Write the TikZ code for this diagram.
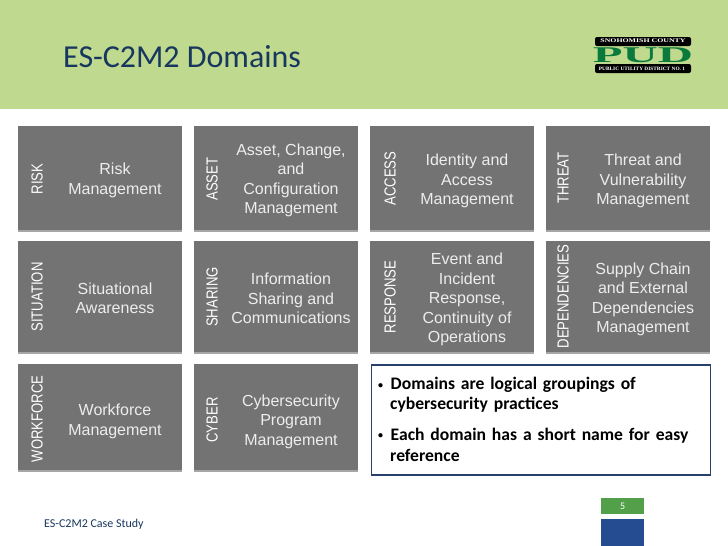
\documentclass[tikz,border=0pt]{standalone}
\usepackage{fontspec}
\setmainfont{Liberation Sans}
\newfontfamily\calibrifont{Carlito}
\newfontfamily\logofont{Liberation Serif}
\usetikzlibrary{shadows}
\usepackage{xcolor}
\definecolor{headergreen}{RGB}{191,217,142}
\definecolor{titleblue}{RGB}{23,55,94}
\definecolor{boxgray}{RGB}{115,115,115}
\definecolor{noteblue}{RGB}{36,64,107}
\definecolor{pagegreen}{RGB}{82,160,74}
\definecolor{pageblue}{RGB}{37,76,145}
\definecolor{logogreen}{RGB}{10,122,60}
\newcommand{\notebullet}{\makebox[12.5pt][l]{\raisebox{1.5pt}{\normalsize\textbullet}}}
\tikzset{
  domainbox/.style={fill=boxgray,anchor=north west,minimum width=164pt,inner sep=0pt,
    drop shadow={shadow xshift=0pt,shadow yshift=-1.6pt,fill=black,opacity=.35}},
  shortname/.style={text=white,font=\fontsize{16}{16}\selectfont,rotate=90,xscale=.82,inner sep=0pt},
  fullname/.style={text=white!93!black,font=\fontsize{16}{19.4}\selectfont,align=center,inner sep=0pt},
}
\begin{document}
\begin{tikzpicture}[x=1pt,y=-1pt]
        \useasboundingbox (0,0) rectangle (728,546);
        \fill[white] (0,0) rectangle (728,546);
        \fill[headergreen] (0,0) rectangle (728,109);
        \node[text=titleblue,font=\calibrifont\fontsize{32}{32}\selectfont,anchor=base west,inner sep=0pt]
          (title) at (63,67) {ES-C2M2 Domains};

        % logo
        \fill[black,rounded corners=2pt] (595,37) rectangle (691,46);
        \fill[black,rounded corners=2pt] (595,64) rectangle (691,73);
        \node[text=white,font=\logofont\bfseries\fontsize{5.6}{5.6}\selectfont,inner sep=0pt,xscale=1.4]
          (logotop) at (643,41) {SNOHOMISH COUNTY};
        \node[text=logogreen,font=\logofont\bfseries\fontsize{25}{25}\selectfont,inner sep=0pt,xscale=1.95,yscale=.9]
          (logopud) at (643,55) {PUD};
        \node[text=white,font=\logofont\bfseries\fontsize{5}{5}\selectfont,inner sep=0pt,xscale=1.07]
          (logobottom) at (642,68.5) {PUBLIC UTILITY DISTRICT NO. 1};

        % first row
        \node[domainbox,minimum height=104pt] (riskbox) at (18,126) {};
        \node[domainbox,minimum height=104pt] (assetbox) at (194,126) {};
        \node[domainbox,minimum height=104pt] (accessbox) at (370,126) {};
        \node[domainbox,minimum height=104pt] (threatbox) at (546,126) {};
        \node[shortname] (risklabel) at (37,179) {RISK};
        \node[shortname] (assetlabel) at (212,179) {ASSET};
        \node[shortname] (accesslabel) at (390,178.5) {ACCESS};
        \node[shortname] (threatlabel) at (563,178) {THREAT};
        \node[fullname] (risktext) at (115,180.5) {Risk\\Management};
        \node[fullname] (assettext) at (291,180.5) {Asset, Change,\\and\\Configuration\\Management};
        \node[fullname] (accesstext) at (467,181) {Identity and\\Access\\Management};
        \node[fullname] (threattext) at (643,181) {Threat and\\Vulnerability\\Management};

        % second row
        \node[domainbox,minimum height=111pt] (situationbox) at (18,241) {};
        \node[domainbox,minimum height=111pt] (sharingbox) at (194,241) {};
        \node[domainbox,minimum height=111pt] (responsebox) at (370,241) {};
        \node[domainbox,minimum height=111pt] (dependenciesbox) at (546,241) {};
        \node[shortname] (situationlabel) at (37,297) {SITUATION};
        \node[shortname] (sharinglabel) at (212,297) {SHARING};
        \node[shortname] (responselabel) at (390,297) {RESPONSE};
        \node[shortname] (dependencieslabel) at (563,296.5) {DEPENDENCIES};
        \node[fullname] (situationtext) at (115,298.5) {Situational\\Awareness};
        \node[fullname] (sharingtext) at (291,298.5) {Information\\Sharing and\\Communications};
        \node[fullname] (responsetext) at (467,299.5) {Event and\\Incident\\Response,\\Continuity of\\Operations};
        \node[fullname] (dependenciestext) at (643,299.5) {Supply Chain\\and External\\Dependencies\\Management};

        % third row
        \node[domainbox,minimum height=106pt] (workforcebox) at (18,364) {};
        \node[domainbox,minimum height=106pt] (cyberbox) at (194,364) {};
        \node[shortname] (workforcelabel) at (37,419) {WORKFORCE};
        \node[shortname] (cyberlabel) at (212,420) {CYBER};
        \node[fullname] (workforcetext) at (115,421.5) {Workforce\\Management};
        \node[fullname] (cybertext) at (291,421.5) {Cybersecurity\\Program\\Management};

        % note
        \node[draw=noteblue,line width=1.8pt,fill=white,anchor=north west,minimum width=339pt,minimum height=110pt,inner sep=0pt]
          (notebox) at (370.5,364) {};
        \node[font=\calibrifont\bfseries\fontsize{17.6}{20}\selectfont,anchor=north west,text width=325pt,align=left,inner sep=0pt]
          (noteone) at (378,377) {\notebullet Domains are logical groupings of\\
            \hspace*{12pt}cybersecurity practices};
        \node[font=\calibrifont\bfseries\fontsize{17.6}{21}\selectfont,anchor=north west,text width=325pt,align=left,inner sep=0pt]
          (notetwo) at (378,427.5) {\notebullet Each domain has a short name for easy\\
            \hspace*{12pt}reference};

        % footer
        \node[fill=pagegreen,text=white,font=\calibrifont\fontsize{10}{10}\selectfont,anchor=north west,minimum width=43pt,minimum height=16pt,inner sep=0pt]
          (pagenum) at (601,498) {5};
        \node[fill=pageblue,anchor=north west,minimum width=43pt,minimum height=27pt,inner sep=0pt]
          (pageblock) at (601,519) {};
        \node[text=titleblue,font=\calibrifont\fontsize{12}{12}\selectfont,anchor=base west,inner sep=0pt]
          (casestudy) at (44,527) {ES-C2M2 Case Study};
      \end{tikzpicture}
\end{document}
